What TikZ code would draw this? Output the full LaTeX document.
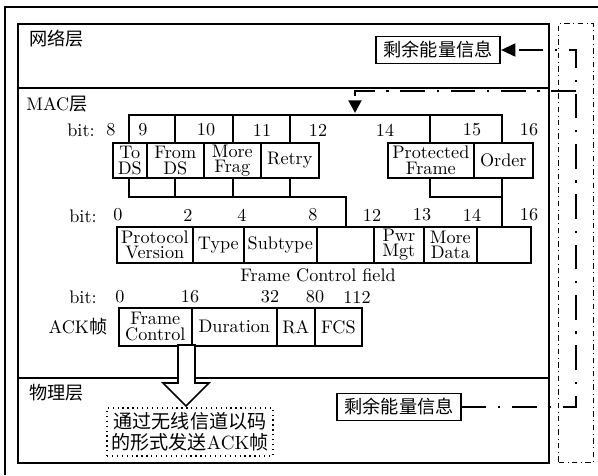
\documentclass[tikz,border=0pt]{standalone}
\usepackage{fontspec}
\newfontfamily\cjk{Noto Sans CJK SC}
\usetikzlibrary{arrows.meta,calc}
\newcommand\pxl{0.55pt}
\begin{document}
\begin{tikzpicture}[x=0.55pt,y=-0.55pt,
  lay/.style={draw,line width=1.1pt,minimum width=531*\pxl,anchor=north west,inner sep=0},
  fld/.style={draw,line width=0.9pt,anchor=north west,inner sep=1pt,align=center,font=\fontsize{10}{8.6}\selectfont},
  num/.style={inner sep=0,font=\fontsize{10}{12}\selectfont},
  brk/.style={line width=0.9pt},
  energy/.style={line width=1.6pt,dash pattern=on 13.5pt off 6.5pt on 1.2pt off 6.5pt},
  info/.style={draw,line width=1pt,minimum width=124*\pxl,minimum height=27*\pxl,inner sep=0,font=\cjk}
]
\useasboundingbox (0,0) rectangle (598,475);
\draw[line width=1.1pt] (5,475) -- (5,7) -- (598,7);
% layers
\node[lay,minimum height=64*\pxl] (net) at (17,23) {};
\node[lay,minimum height=290*\pxl] (mac) at (17,87) {};
\node[lay,minimum height=85*\pxl] (phy) at (17,377) {};
\node[draw,dash dot,line width=0.6pt,minimum width=35*\pxl,minimum height=439*\pxl,anchor=north west,inner sep=0] (side) at (558,23) {};
\node[anchor=west,font=\cjk] (netl) at (23,39) {网络层};
\node[anchor=west] (macl) at (20,104) {MAC{\cjk 层}};
\node[anchor=west,font=\cjk] (phyl) at (23,393) {物理层};
\node[info] (einfo1) at (438,50) {剩余能量信息};
\node[info] (einfo2) at (399,407) {剩余能量信息};
% upper row numbers
\node[num] (ubit) at (81,130) {bit:};
\node[num] (u8) at (111,130) {8};
\node[num] (u9) at (143,130) {9};
\node[num] (u10) at (206,130) {10};
\node[num] (u11) at (262,130) {11};
\node[num] (u12) at (318,130) {12};
\node[num] (u14) at (385,130) {14};
\node[num] (u15) at (472,130) {15};
\node[num] (u16) at (529,130) {16};
% upper fields
\node[fld,minimum width=34*\pxl,minimum height=35*\pxl] (td) at (112,142) {To\\DS};
\node[fld,minimum width=57*\pxl,minimum height=35*\pxl] (fd) at (146,142) {From\\DS};
\node[fld,minimum width=57*\pxl,minimum height=35*\pxl] (mf) at (203,142) {More\\Frag};
\node[fld,minimum width=58*\pxl,minimum height=35*\pxl] (rt) at (260,142) {Retry};
\node[fld,minimum width=86*\pxl,minimum height=35*\pxl] (pf) at (387,142) {Protected\\Frame};
\node[fld,minimum width=59*\pxl,minimum height=35*\pxl] (od) at (473,142) {Order};
% brackets
\draw[brk] (129,142) -- (129,115) -- (502,115) -- (502,142);
\draw[brk] (175,115) -- (175,142);
\draw[brk] (233,115) -- (233,142);
\draw[brk] (290,115) -- (290,142);
\draw[brk] (430,115) -- (430,142);
\draw[brk] (129,177) -- (129,197) -- (346,197) -- (346,226);
\draw[brk] (175,177) -- (175,197);
\draw[brk] (233,177) -- (233,197);
\draw[brk] (290,177) -- (290,197);
\draw[brk] (430,177) -- (430,197) -- (502,197);
\draw[brk] (502,177) -- (502,226);
% lower row numbers
\node[num] (lbit) at (83,216) {bit:};
\node[num] (l0) at (118,215) {0};
\node[num] (l2) at (188,215) {2};
\node[num] (l4) at (242,215) {4};
\node[num] (l8) at (313,215) {8};
\node[num] (l12) at (372,215) {12};
\node[num] (l13) at (422,215) {13};
\node[num] (l14) at (472,215) {14};
\node[num] (l16) at (529,215) {16};
% lower fields
\node[fld,minimum width=76*\pxl,minimum height=36*\pxl] (pv) at (116,226) {Protocol\\Version};
\node[fld,minimum width=51*\pxl,minimum height=36*\pxl] (ty) at (192,226) {Type};
\node[fld,minimum width=73*\pxl,minimum height=36*\pxl] (st) at (243,226) {Subtype};
\node[fld,minimum width=57*\pxl,minimum height=36*\pxl] (e1) at (316,226) {};
\node[fld,minimum width=50*\pxl,minimum height=36*\pxl] (pm) at (373,226) {Pwr\\Mgt};
\node[fld,minimum width=53*\pxl,minimum height=36*\pxl] (md) at (423,226) {More\\Data};
\node[fld,minimum width=54*\pxl,minimum height=36*\pxl] (e2) at (476,226) {};
\node[num] (fcf) at (318,275) {Frame Control field};
% ACK row
\node[num] (abit) at (83,297) {bit:};
\node[num] (a0) at (120,297) {0};
\node[num] (a16) at (190,297) {16};
\node[num] (a32) at (270,297) {32};
\node[num] (a80) at (315,297) {80};
\node[num] (a112) at (357,297) {112};
\node[num] (ackl) at (78,327) {ACK{\cjk 帧}};
\node[fld,minimum width=73*\pxl,minimum height=38*\pxl] (fc) at (118,307) {Frame\\Control};
\node[fld,minimum width=85*\pxl,minimum height=38*\pxl] (du) at (191,307) {Duration};
\node[fld,minimum width=38*\pxl,minimum height=38*\pxl] (ra) at (276,307) {RA};
\node[fld,minimum width=47*\pxl,minimum height=38*\pxl] (fcs) at (314,307) {FCS};
% hollow arrow
\draw[line width=0.9pt,fill=white] (178,345) -- (195,345) -- (195,383) -- (209,383) -- (186,406) -- (163,383) -- (178,383) -- cycle;
\node[draw,dotted,line width=0.7pt,minimum width=166*\pxl,minimum height=48*\pxl,align=center,inner sep=0,font=\fontsize{10.5}{11.5}\selectfont\cjk] (tx) at (190,432) {通过无线信道以码\\的形式发送{\rmfamily ACK}帧};
% energy info connectors
\coordinate (turn1) at (576,407);
\coordinate (turn2) at (576,50);
\coordinate (junc) at (576,91);
\coordinate (drop) at (355,91);
\coordinate (mactop) at (355,113);
\draw[energy,-{Triangle[length=8pt,width=7pt]}] (einfo2.east) -- (turn1) -- (turn2) -- (einfo1.east);
\draw[energy,-{Triangle[length=7pt,width=7pt]}] (junc) -- (drop) -- (mactop);
\end{tikzpicture}
\end{document}
